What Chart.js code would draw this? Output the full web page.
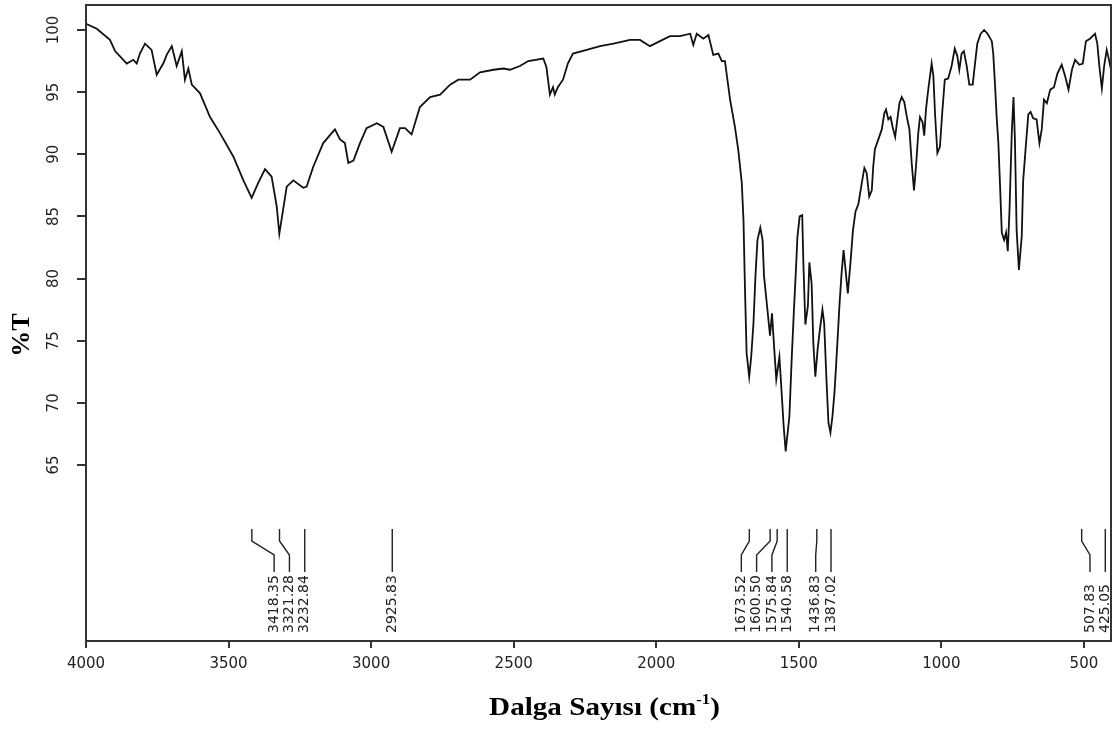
<!DOCTYPE html>
<html lang="tr">
<head>
<meta charset="UTF-8">
<title>IR Spektrumu</title>
<script src="https://cdn.jsdelivr.net/npm/chart.js"></script>
<style>
  html, body { margin: 0; padding: 0; background: #fff; }
</style>
</head>
<body>
<canvas id="irChart" width="1113" height="731"></canvas>

<script>
// spectrum (cm-1 , %T)
const wavenumbers = [
  4000, 3962, 3916, 3898, 3857, 3834, 3822, 3811, 3793, 3770, 3752, 3729, 3717, 3699, 3682, 3664,
  3653, 3641, 3629, 3600, 3565, 3530, 3483, 3448, 3419, 3396, 3372, 3349, 3331, 3322, 3296, 3273,
  3238, 3226, 3203, 3168, 3127, 3109, 3092, 3080, 3062, 3039, 3016, 2980, 2957, 2928, 2899, 2881,
  2858, 2829, 2793, 2758, 2723, 2694, 2653, 2618, 2571, 2536, 2513, 2478, 2449, 2396, 2385, 2373,
  2362, 2356, 2345, 2327, 2310, 2292, 2244, 2197, 2150, 2092, 2057, 2022, 1987, 1952, 1917, 1881,
  1870, 1858, 1835, 1817, 1800, 1782, 1770, 1759, 1741, 1724, 1712, 1700, 1694, 1689, 1683, 1674,
  1667, 1659, 1652, 1645, 1635, 1627, 1622, 1610, 1601, 1594, 1586, 1579, 1568, 1563, 1553, 1546,
  1533, 1525, 1517, 1510, 1505, 1497, 1488, 1484, 1477, 1468, 1463, 1455, 1449, 1442, 1434, 1426,
  1417, 1411, 1403, 1396, 1389, 1382, 1375, 1370, 1364, 1357, 1350, 1343, 1336, 1328, 1318, 1310,
  1301, 1291, 1279, 1270, 1262, 1253, 1244, 1239, 1233, 1221, 1209, 1200, 1194, 1186, 1178, 1171,
  1162, 1156, 1147, 1139, 1130, 1121, 1112, 1104, 1096, 1089, 1081, 1075, 1066, 1060, 1054, 1046,
  1034, 1028, 1022, 1014, 1005, 997, 988, 976, 964, 953, 944, 937, 929, 921, 911, 902,
  890, 882, 874, 862, 850, 838, 823, 818, 812, 806, 800, 794, 788, 780, 773, 767,
  761, 753, 747, 742, 736, 728, 718, 713, 704, 695, 687, 678, 666, 656, 648, 640,
  630, 618, 605, 593, 578, 566, 554, 542, 531, 516, 504, 493, 479, 461, 453, 446,
  437, 429, 420, 412, 406
];
const transmittance = [
  100.5, 100.1, 99.2, 98.3, 97.3, 97.6, 97.3, 98.1, 98.9, 98.4, 96.4, 97.3, 98.0, 98.7, 97.1, 98.3,
  96.0, 96.9, 95.6, 94.9, 93.0, 91.7, 89.8, 87.9, 86.5, 87.7, 88.8, 88.2, 85.8, 83.6, 87.4, 87.9,
  87.3, 87.4, 89.0, 90.9, 92.0, 91.2, 90.9, 89.3, 89.5, 90.9, 92.1, 92.5, 92.2, 90.2, 92.1, 92.1,
  91.6, 93.8, 94.6, 94.8, 95.6, 96.0, 96.0, 96.6, 96.8, 96.9, 96.8, 97.1, 97.5, 97.7, 97.0, 94.8,
  95.4, 94.8, 95.4, 96.0, 97.3, 98.1, 98.4, 98.7, 98.9, 99.2, 99.2, 98.7, 99.1, 99.5, 99.5, 99.7,
  98.8, 99.7, 99.3, 99.6, 98.0, 98.1, 97.5, 97.5, 94.4, 92.2, 90.3, 87.7, 84.7, 79.4, 74.0, 72.1,
  73.7, 76.4, 80.2, 83.1, 84.1, 83.1, 80.2, 77.5, 75.4, 77.2, 74.3, 71.9, 73.7, 71.9, 68.1, 66.1,
  68.9, 73.5, 77.5, 80.7, 83.3, 85.0, 85.1, 81.3, 76.3, 77.8, 81.3, 79.6, 74.8, 72.1, 74.3, 75.9,
  77.5, 76.4, 71.9, 68.4, 67.6, 68.9, 70.8, 72.7, 75.1, 78.0, 80.4, 82.3, 80.7, 78.8, 81.5, 83.9,
  85.4, 86.0, 87.7, 88.9, 88.5, 86.6, 87.1, 89.0, 90.4, 91.2, 92.0, 93.3, 93.6, 92.8, 93.0, 92.2,
  91.4, 92.5, 94.1, 94.6, 94.2, 93.0, 92.0, 89.3, 87.1, 89.0, 91.7, 93.0, 92.6, 91.5, 93.6, 95.2,
  97.3, 96.3, 93.2, 90.1, 90.6, 93.3, 96.0, 96.1, 97.1, 98.5, 97.9, 96.8, 98.1, 98.3, 97.1, 95.6,
  95.6, 97.3, 98.9, 99.7, 100.0, 99.7, 99.1, 98.1, 95.7, 93.0, 90.9, 87.4, 83.7, 83.1, 83.7, 82.2,
  85.5, 91.7, 94.6, 91.2, 83.9, 80.7, 83.4, 87.9, 90.6, 93.2, 93.4, 92.9, 92.8, 90.9, 92.0, 94.4,
  94.1, 95.2, 95.4, 96.5, 97.2, 96.3, 95.2, 96.8, 97.6, 97.2, 97.3, 99.1, 99.3, 99.7, 98.9, 97.1,
  95.3, 97.1, 98.4, 97.6, 96.9
];

// picked peaks printed under the curve
const peakLabels = [3418.35, 3321.28, 3232.84, 2925.83, 1673.52, 1600.50, 1575.84, 1540.58, 1436.83, 1387.02, 507.83, 425.05];

const xTicks = [4000, 3500, 3000, 2500, 2000, 1500, 1000, 500];
const yTicks = [65, 70, 75, 80, 85, 90, 95, 100];

const points = wavenumbers.map((w, i) => ({ x: w, y: transmittance[i] }));

// frame, rotated y labels, axis titles, peak markers
const irDecor = {
  id: 'irDecor',
  afterDraw(chart) {
    const ctx = chart.ctx;
    const a = chart.chartArea;
    const xs = chart.scales.x;
    const ys = chart.scales.y;

    ctx.save();
    ctx.strokeStyle = '#333';
    ctx.lineWidth = 2;
    ctx.strokeRect(a.left, a.top, a.right - a.left, a.bottom - a.top);

    // y tick labels, written bottom-to-top
    ctx.fillStyle = '#222';
    ctx.font = '15px "DejaVu Sans", Arial, sans-serif';
    ctx.textAlign = 'center';
    ctx.textBaseline = 'middle';
    yTicks.forEach(v => {
      ctx.save();
      ctx.translate(a.left - 32, ys.getPixelForValue(v));
      ctx.rotate(-Math.PI / 2);
      ctx.fillText(String(v), 0, 0);
      ctx.restore();
    });

    // y title
    ctx.fillStyle = '#000';
    ctx.font = 'bold 26px "Liberation Serif", "Times New Roman", serif';
    ctx.save();
    ctx.translate(22, (a.top + a.bottom) / 2 + 12);
    ctx.rotate(-Math.PI / 2);
    ctx.fillText('%T', 0, 0);
    ctx.restore();

    // x title with superscript
    const main = 'Dalga Sayısı (cm', sup = '-1', close = ')';
    const bigFont = 'bold 26px "Liberation Serif", "Times New Roman", serif';
    const supFont = 'bold 15px "Liberation Serif", "Times New Roman", serif';
    ctx.font = bigFont;
    const w1 = ctx.measureText(main).width, w3 = ctx.measureText(close).width;
    ctx.font = supFont;
    const w2 = ctx.measureText(sup).width;
    const sx = 1.12;
    const cx = (a.left + a.right) / 2 + 6;
    const base = a.bottom + 74;
    ctx.save();
    ctx.translate(cx - (w1 + w2 + w3) * sx / 2, base);
    ctx.scale(sx, 1);
    ctx.textAlign = 'left';
    ctx.textBaseline = 'alphabetic';
    ctx.font = bigFont;
    ctx.fillText(main, 0, 0);
    ctx.font = supFont;
    ctx.fillText(sup, w1, -11);
    ctx.font = bigFont;
    ctx.fillText(close, w1 + w2, 0);
    ctx.restore();

    // peak markers: close peaks get packed labels
    const px = peakLabels.map(p => xs.getPixelForValue(p));
    const lx = px.slice();
    let i = 0;
    while (i < peakLabels.length) {
      let j = i;
      while (j + 1 < peakLabels.length && peakLabels[j] - peakLabels[j + 1] < 100) j++;
      for (let k = i; k <= j; k++) lx[k] = px[j] - (j - k) * 15.3;
      i = j + 1;
    }
    const b = a.bottom;
    ctx.strokeStyle = '#222';
    ctx.lineWidth = 1.4;
    ctx.fillStyle = '#222';
    ctx.font = '14px "DejaVu Sans", Arial, sans-serif';
    ctx.textAlign = 'left';
    ctx.textBaseline = 'middle';
    peakLabels.forEach((p, k) => {
      ctx.beginPath();
      ctx.moveTo(px[k], b - 112);
      ctx.lineTo(px[k], b - 100);
      ctx.lineTo(lx[k], b - 86);
      ctx.lineTo(lx[k], b - 69);
      ctx.stroke();
      ctx.save();
      ctx.translate(lx[k], b - 8);
      ctx.rotate(-Math.PI / 2);
      ctx.fillText(p.toFixed(2), 0, 0);
      ctx.restore();
    });
    ctx.restore();
  }
};

new Chart(document.getElementById('irChart').getContext('2d'), {
  type: 'line',
  data: {
    datasets: [{
      label: '%T',
      data: points,
      borderColor: '#111',
      borderWidth: 1.8,
      pointRadius: 0,
      tension: 0,
      fill: false
    }]
  },
  options: {
    responsive: false,
    animation: false,
    layout: { padding: { top: 5, right: 2, left: 0, bottom: 0 } },
    plugins: { legend: { display: false }, tooltip: { enabled: false } },
    scales: {
      x: {
        type: 'linear',
        reverse: true,
        min: 405,
        max: 4000,
        afterBuildTicks: s => { s.ticks = xTicks.map(v => ({ value: v })); },
        afterFit: s => { s.height = 90; },
        ticks: {
          autoSkip: false,
          maxRotation: 0,
          padding: 7,
          color: '#222',
          font: { family: '"DejaVu Sans", Arial, sans-serif', size: 15 },
          callback: v => String(v)
        },
        grid: { drawOnChartArea: false, drawTicks: true, tickLength: 7, color: '#333', lineWidth: 2 },
        border: { display: true, color: '#333', width: 2 }
      },
      y: {
        type: 'linear',
        min: 50.84,
        max: 102.01,
        afterBuildTicks: s => { s.ticks = yTicks.map(v => ({ value: v })); },
        afterFit: s => { s.width = 86; },
        ticks: { display: false },
        grid: { drawOnChartArea: false, drawTicks: true, tickLength: 9, color: '#333', lineWidth: 2 },
        border: { display: true, color: '#333', width: 2 }
      }
    }
  },
  plugins: [irDecor]
});
</script>
</body>
</html>
